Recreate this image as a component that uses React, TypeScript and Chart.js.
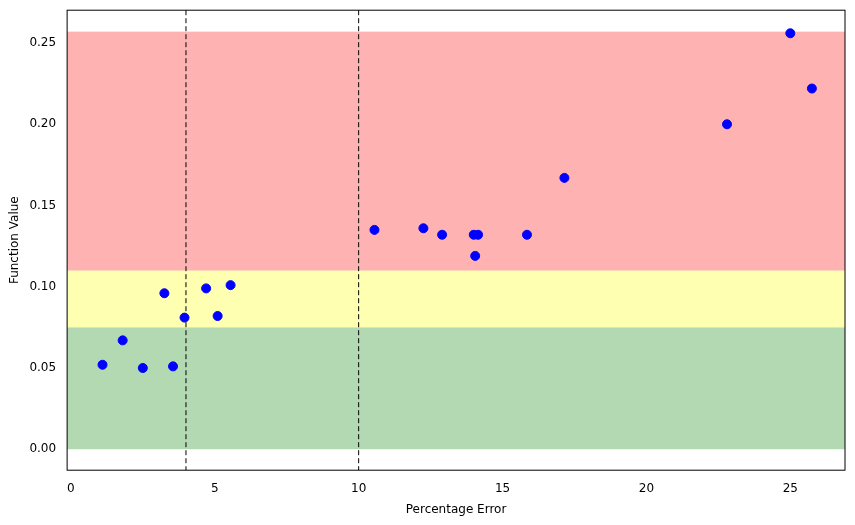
import { useEffect, useRef } from "react";
import { Chart, registerables } from "chart.js";

Chart.register(...registerables);

const errors = [1.1, 1.8, 2.5, 3.25, 3.55, 3.95, 4.7, 5.1, 5.55, 10.55, 12.25, 12.9, 14.0, 14.15, 14.05, 15.85, 17.15, 22.8, 25.0, 25.75];
const values = [0.052, 0.067, 0.050, 0.096, 0.051, 0.081, 0.099, 0.082, 0.101, 0.135, 0.136, 0.132, 0.132, 0.132, 0.119, 0.132, 0.167, 0.200, 0.256, 0.222];
const bands = [
  { from: 0, to: 0.075, color: "rgba(0,128,0,0.3)" },
  { from: 0.075, to: 0.11, color: "rgba(255,255,0,0.3)" },
  { from: 0.11, to: 0.257, color: "rgba(255,0,0,0.3)" },
];
const thresholds = [4, 10];

const bandPlugin = {
  id: "bands",
  beforeDatasetsDraw(chart: any) {
    const { ctx, chartArea: a, scales } = chart;
    ctx.save();
    for (const b of bands) {
      const y1 = scales.y.getPixelForValue(b.to);
      const y0 = scales.y.getPixelForValue(b.from);
      ctx.fillStyle = b.color;
      ctx.fillRect(a.left, y1, a.right - a.left, y0 - y1);
    }
    ctx.strokeStyle = "#000";
    ctx.lineWidth = 1;
    ctx.setLineDash([5, 3]);
    for (const t of thresholds) {
      const x = scales.x.getPixelForValue(t);
      ctx.beginPath();
      ctx.moveTo(x, a.top);
      ctx.lineTo(x, a.bottom);
      ctx.stroke();
    }
    ctx.restore();
  },
  afterDraw(chart: any) {
    const { ctx, chartArea: a } = chart;
    ctx.save();
    ctx.strokeStyle = "#000";
    ctx.lineWidth = 1;
    ctx.strokeRect(a.left, a.top, a.right - a.left, a.bottom - a.top);
    ctx.restore();
  },
};

const App = () => {
  const ref = useRef<HTMLCanvasElement | null>(null);

  useEffect(() => {
    if (!ref.current) return;
    const chart = new Chart(ref.current, {
      type: "scatter",
      data: {
        datasets: [{
          data: errors.map((x, i) => ({ x, y: values[i] })),
          backgroundColor: "#0000ff",
          borderColor: "#0000ff",
          pointRadius: 4.5,
        }],
      },
      options: {
        animation: false,
        responsive: false,
        layout: { padding: { top: 10, right: 10, left: 4, bottom: 4 } },
        plugins: { legend: { display: false }, tooltip: { enabled: false } },
        scales: {
          x: {
            type: "linear", min: -0.13, max: 26.9,
            grid: { display: false, drawTicks: true },
            border: { display: false },
            ticks: { stepSize: 5, color: "#000", font: { family: "DejaVu Sans", size: 12 }, callback: (v: any) => (v % 5 === 0 && v >= 0 ? String(v) : "") },
            afterBuildTicks: (ax: any) => { ax.ticks = [0, 5, 10, 15, 20, 25].map(v => ({ value: v })); },
            title: { display: true, text: "Percentage Error", color: "#000", font: { family: "DejaVu Sans", size: 12 } },
          },
          y: {
            min: -0.0129, max: 0.2702,
            grid: { display: false },
            border: { display: false },
            ticks: { color: "#000", font: { family: "DejaVu Sans", size: 12 }, callback: (v: any) => Number(v).toFixed(2) },
            afterBuildTicks: (ax: any) => { ax.ticks = [0, 0.05, 0.1, 0.15, 0.2, 0.25].map(v => ({ value: v })); },
            title: { display: true, text: "Function Value", color: "#000", font: { family: "DejaVu Sans", size: 12 } },
          },
        },
      },
      plugins: [bandPlugin],
    });
    return () => chart.destroy();
  }, []);

  return (
    <div style={{ position: "absolute", left: 0, top: 0, width: 855, height: 525, background: "#fff" }}>
      <canvas ref={ref} width={855} height={525}></canvas>
    </div>
  );
};

export default App;
